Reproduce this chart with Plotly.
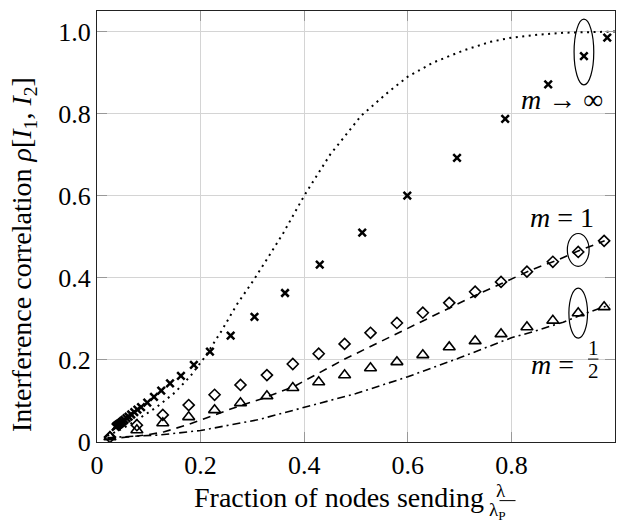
import plotly.graph_objects as go

# ---------------- data ----------------
# simulation, m -> infinity (crosses)
x_inf_sim = [0.036, 0.038, 0.040, 0.042, 0.044, 0.047, 0.050, 0.053, 0.057, 0.061,
             0.066, 0.072, 0.078, 0.085, 0.097, 0.110, 0.124, 0.141, 0.162, 0.187,
             0.218, 0.258, 0.304, 0.363, 0.430, 0.512, 0.599, 0.695, 0.788, 0.871,
             0.940, 0.985]
y_inf_sim = [0.037, 0.039, 0.041, 0.043, 0.045, 0.048, 0.051, 0.054, 0.058, 0.062,
             0.067, 0.073, 0.079, 0.085, 0.096, 0.110, 0.125, 0.143, 0.161, 0.188,
             0.220, 0.259, 0.305, 0.363, 0.432, 0.510, 0.600, 0.692, 0.787, 0.871,
             0.940, 0.985]
# theory, m -> infinity (dotted)
x_inf_th = [0.02, 0.05, 0.08, 0.115, 0.15, 0.18, 0.21, 0.24, 0.27, 0.30, 0.33, 0.36,
            0.40, 0.45, 0.51, 0.56, 0.60, 0.65, 0.71, 0.76, 0.80, 0.85, 0.90, 0.95, 1.0]
y_inf_th = [0.015, 0.033, 0.056, 0.085, 0.12, 0.16, 0.21, 0.27, 0.335, 0.39, 0.449, 0.51,
            0.60, 0.70, 0.795, 0.85, 0.89, 0.925, 0.955, 0.975, 0.985, 0.992, 0.997, 0.999, 1.0]

# simulation, m = 1 (diamonds) and m = 1/2 (triangles)
x_sim = [0.025, 0.077, 0.127, 0.177, 0.227, 0.277, 0.328, 0.378, 0.428, 0.478,
         0.528, 0.579, 0.629, 0.680, 0.730, 0.780, 0.830, 0.880, 0.929, 0.979]
y_m1_sim = [0.012, 0.041, 0.066, 0.090, 0.115, 0.139, 0.163, 0.190, 0.215, 0.239,
            0.266, 0.290, 0.315, 0.339, 0.366, 0.390, 0.415, 0.439, 0.463, 0.490]
y_mh_sim = [0.012, 0.029, 0.046, 0.061, 0.078, 0.095, 0.112, 0.132, 0.146, 0.163,
            0.180, 0.195, 0.212, 0.231, 0.246, 0.263, 0.280, 0.296, 0.314, 0.329]

# theory, m = 1 (dashed)
x_m1_th = [0.02, 0.06, 0.10, 0.13, 0.175, 0.225, 0.275, 0.32, 0.38, 0.475, 0.60, 0.725,
           0.84, 0.89, 0.93, 0.98]
y_m1_th = [0.008, 0.012, 0.018, 0.025, 0.042, 0.065, 0.088, 0.106, 0.135, 0.200, 0.278,
           0.354, 0.420, 0.444, 0.466, 0.490]
# theory, m = 1/2 (dash-dot)
x_mh_th = [0.02, 0.04, 0.12, 0.20, 0.31, 0.40, 0.50, 0.60, 0.70, 0.80, 0.84, 0.90, 0.94, 0.99]
y_mh_th = [0.010, 0.012, 0.017, 0.028, 0.054, 0.085, 0.118, 0.159, 0.205, 0.254, 0.268,
           0.292, 0.312, 0.334]

x_ticks = [0, 0.2, 0.4, 0.6, 0.8, 1.0]
x_tick_labels = ["0", "0.2", "0.4", "0.6", "0.8", "1"]
y_ticks = [0, 0.2, 0.4, 0.6, 0.8, 1.0]
y_tick_labels = ["0", "0.2", "0.4", "0.6", "0.8", "1.0"]

# highlighted points (index into series) for the ellipses
hl_inf = 30
hl_m = 18

FONT = "'Liberation Serif', 'Times New Roman', Times, serif"

fig = go.Figure()

fig.add_trace(go.Scatter(x=x_inf_th, y=y_inf_th, mode="lines",
                         line=dict(color="black", width=2, dash="2px,4.5px")))
fig.add_trace(go.Scatter(x=x_m1_th, y=y_m1_th, mode="lines",
                         line=dict(color="black", width=1.6, dash="8px,6px")))
fig.add_trace(go.Scatter(x=x_mh_th, y=y_mh_th, mode="lines",
                         line=dict(color="black", width=1.6, dash="8px,4px,2px,4px")))
fig.add_trace(go.Scatter(x=x_inf_sim, y=y_inf_sim, mode="markers",
                         marker=dict(symbol="x-thin-open", size=7.5, color="black",
                                     line=dict(color="black", width=2.5))))
fig.add_trace(go.Scatter(x=x_sim, y=y_m1_sim, mode="markers",
                         marker=dict(symbol="diamond-open", size=8.5, color="black",
                                     line=dict(color="black", width=1.6))))
fig.add_trace(go.Scatter(x=x_sim, y=y_mh_sim, mode="markers",
                         marker=dict(symbol="triangle-up-open", size=10.5, color="black",
                                     line=dict(color="black", width=1.6))))

# ellipses around highlighted points
def ellipse(cx, cy, rx, ry):
    fig.add_shape(type="circle", xref="x", yref="y", x0=cx - rx, x1=cx + rx,
                  y0=cy - ry, y1=cy + ry, line=dict(color="black", width=1.2))

ellipse(x_inf_sim[hl_inf], y_inf_sim[hl_inf] + 0.01, 0.019, 0.080)
ellipse(x_sim[hl_m], y_m1_sim[hl_m] + 0.005, 0.021, 0.040)
ellipse(x_sim[hl_m], y_mh_sim[hl_m], 0.018, 0.061)

ann_font = dict(family=FONT, size=28, color="black")
fig.add_annotation(x=0.898, y=0.834, xref="x", yref="y", text="<i>m</i> → ∞",
                   showarrow=False, font=ann_font, yanchor="middle")
fig.add_annotation(x=0.898, y=0.546, xref="x", yref="y", text="<i>m</i> = 1",
                   showarrow=False, font=ann_font, yanchor="middle")
fig.add_annotation(x=0.925, y=0.19, xref="x", yref="y", text="<i>m</i> =",
                   showarrow=False, font=ann_font, xanchor="right", yanchor="middle")
fig.add_annotation(x=0.958, y=0.228, xref="x", yref="y", text="1",
                   showarrow=False, font=dict(family=FONT, size=21, color="black"),
                   yanchor="middle")
fig.add_annotation(x=0.958, y=0.172, xref="x", yref="y", text="2",
                   showarrow=False, font=dict(family=FONT, size=21, color="black"),
                   yanchor="middle")
fig.add_shape(type="line", xref="x", yref="y", x0=0.948, x1=0.968, y0=0.202, y1=0.202,
              line=dict(color="black", width=1))

# y-axis title
fig.add_annotation(x=-0.143, y=0.436, xref="paper", yref="paper", textangle=-90,
                   text="Interference correlation <i>ρ</i>[<i>I</i><sub>1</sub>, <i>I</i><sub>2</sub>]",
                   showarrow=False, xanchor="center", yanchor="middle",
                   font=dict(family=FONT, size=28, color="black"))

# x-axis title with stacked fraction (paper coordinates below plot)
fig.add_annotation(x=0.750, y=-0.128, xref="paper", yref="paper", xanchor="right",
                   yanchor="middle",
                   text="Fraction of nodes sending", showarrow=False,
                   font=dict(family=FONT, size=28, color="black"))
fig.add_annotation(x=0.792, y=-0.112, xref="paper", yref="paper", text="λ",
                   showarrow=False, yanchor="middle", borderpad=0,
                   font=dict(family=FONT, size=19, color="black"))
fig.add_annotation(x=0.792, y=-0.159, xref="paper", yref="paper",
                   text="λ<sub>P</sub>", showarrow=False, yanchor="middle", borderpad=0,
                   font=dict(family=FONT, size=19, color="black"))
fig.add_shape(type="line", xref="paper", yref="paper", x0=0.777, x1=0.808,
              y0=-0.136, y1=-0.136, line=dict(color="black", width=1))

fig.update_layout(
    width=619, height=523,
    margin=dict(l=97, r=4, t=11, b=81),
    paper_bgcolor="white", plot_bgcolor="white",
    showlegend=False,
    font=dict(family=FONT, size=26, color="black"),
    xaxis=dict(range=[0, 1], tickvals=x_ticks, ticktext=x_tick_labels,
               showgrid=True, gridcolor="#d4d4d4", gridwidth=1, zeroline=False,
               showline=True, linecolor="#222", linewidth=1.3, mirror="ticks",
               ticks="inside", ticklen=10, tickcolor="#999", tickwidth=1.3),
    yaxis=dict(range=[0, 1.05], tickvals=y_ticks, ticktext=y_tick_labels,
               showgrid=True, gridcolor="#d4d4d4", gridwidth=1, zeroline=False,
               showline=True, linecolor="#222", linewidth=1.3, mirror="ticks",
               ticks="inside", ticklen=10, tickcolor="#999", tickwidth=1.3),
)

fig.write_html("out.html")
